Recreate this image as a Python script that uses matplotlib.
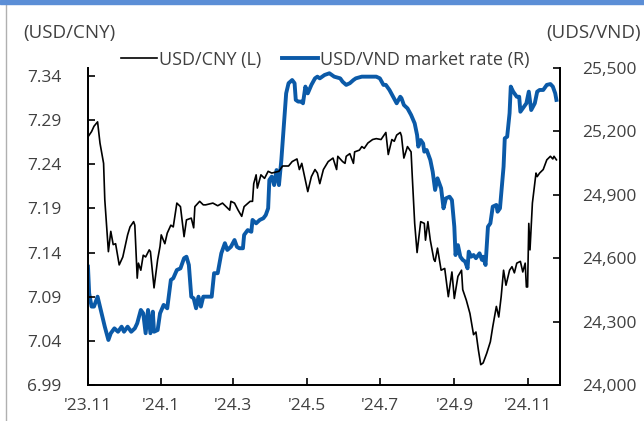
import matplotlib.pyplot as plt
import matplotlib.dates as mdates
import numpy as np
import pandas as pd
from matplotlib.lines import Line2D
from matplotlib.patches import Rectangle

plt.rcParams['font.family'] = ['Open Sans', 'DejaVu Sans']

# USD/CNY (left axis)
cny_dates = ["2023-11-01", "2023-11-04", "2023-11-06", "2023-11-09", "2023-11-11", "2023-11-14",
             "2023-11-15", "2023-11-18", "2023-11-20", "2023-11-22", "2023-11-24", "2023-11-27",
             "2023-11-30", "2023-12-04", "2023-12-06", "2023-12-09", "2023-12-10", "2023-12-12",
             "2023-12-13", "2023-12-15", "2023-12-17", "2023-12-19", "2023-12-22", "2023-12-23",
             "2023-12-26", "2023-12-29", "2023-12-31", "2024-01-01", "2024-01-04", "2024-01-06",
             "2024-01-09", "2024-01-11", "2024-01-14", "2024-01-17", "2024-01-20", "2024-01-22",
             "2024-01-26", "2024-01-28", "2024-01-29", "2024-02-02", "2024-02-05", "2024-02-07",
             "2024-02-13", "2024-02-17", "2024-02-21", "2024-02-24", "2024-02-27", "2024-02-28",
             "2024-03-02", "2024-03-05", "2024-03-08", "2024-03-10", "2024-03-15", "2024-03-17",
             "2024-03-18", "2024-03-20", "2024-03-21", "2024-03-24", "2024-03-27", "2024-03-30",
             "2024-04-02", "2024-04-05", "2024-04-08", "2024-04-11", "2024-04-16", "2024-04-19",
             "2024-04-23", "2024-04-25", "2024-04-27", "2024-04-30", "2024-05-02", "2024-05-05",
             "2024-05-08", "2024-05-10", "2024-05-12", "2024-05-15", "2024-05-19", "2024-05-23",
             "2024-05-26", "2024-05-27", "2024-05-31", "2024-06-02", "2024-06-03", "2024-06-06",
             "2024-06-09", "2024-06-10", "2024-06-14", "2024-06-16", "2024-06-18", "2024-06-21",
             "2024-06-25", "2024-06-28", "2024-07-02", "2024-07-06", "2024-07-08", "2024-07-11",
             "2024-07-13", "2024-07-15", "2024-07-18", "2024-07-19", "2024-07-21", "2024-07-24",
             "2024-07-27", "2024-07-28", "2024-07-30", "2024-08-01", "2024-08-04", "2024-08-07",
             "2024-08-08", "2024-08-10", "2024-08-12", "2024-08-15", "2024-08-16", "2024-08-18",
             "2024-08-21", "2024-08-24", "2024-08-27", "2024-08-30", "2024-09-01", "2024-09-04",
             "2024-09-07", "2024-09-08", "2024-09-11", "2024-09-14", "2024-09-17", "2024-09-19",
             "2024-09-21", "2024-09-23", "2024-09-25", "2024-09-28", "2024-10-01", "2024-10-03",
             "2024-10-06", "2024-10-08", "2024-10-10", "2024-10-12", "2024-10-14", "2024-10-17",
             "2024-10-19", "2024-10-21", "2024-10-23", "2024-10-26", "2024-10-28", "2024-10-30",
             "2024-10-31", "2024-11-01", "2024-11-02", "2024-11-03", "2024-11-05", "2024-11-08",
             "2024-11-09", "2024-11-11", "2024-11-14", "2024-11-17", "2024-11-20", "2024-11-22",
             "2024-11-23", "2024-11-25"]
cny = [7.271, 7.277, 7.283, 7.288, 7.264, 7.241,
       7.200, 7.141, 7.164, 7.149, 7.150, 7.126,
       7.135, 7.160, 7.169, 7.175, 7.171, 7.111,
       7.128, 7.120, 7.137, 7.135, 7.143, 7.141,
       7.100, 7.132, 7.147, 7.160, 7.150, 7.162,
       7.171, 7.169, 7.196, 7.192, 7.158, 7.177,
       7.179, 7.168, 7.192, 7.198, 7.194, 7.194,
       7.196, 7.193, 7.196, 7.192, 7.188, 7.198,
       7.196, 7.188, 7.181, 7.192, 7.198, 7.198,
       7.218, 7.228, 7.213, 7.228, 7.224, 7.232,
       7.230, 7.231, 7.232, 7.238, 7.238, 7.243,
       7.246, 7.234, 7.241, 7.222, 7.209, 7.226,
       7.234, 7.230, 7.218, 7.234, 7.243, 7.247,
       7.234, 7.249, 7.243, 7.241, 7.249, 7.252,
       7.241, 7.254, 7.256, 7.260, 7.258, 7.264,
       7.268, 7.269, 7.268, 7.276, 7.251, 7.268,
       7.266, 7.273, 7.276, 7.272, 7.247, 7.260,
       7.254, 7.226, 7.173, 7.140, 7.175, 7.173,
       7.154, 7.175, 7.154, 7.132, 7.130, 7.145,
       7.120, 7.122, 7.090, 7.118, 7.088, 7.113,
       7.120, 7.098, 7.086, 7.071, 7.047, 7.050,
       7.030, 7.013, 7.015, 7.026, 7.039, 7.056,
       7.079, 7.067, 7.090, 7.120, 7.103, 7.120,
       7.124, 7.117, 7.128, 7.130, 7.118, 7.128,
       7.101, 7.101, 7.173, 7.143, 7.196, 7.230,
       7.226, 7.230, 7.234, 7.245, 7.249, 7.246,
       7.249, 7.245]

# USD/VND market rate (right axis)
vnd_dates = ["2023-11-01", "2023-11-02", "2023-11-04", "2023-11-06", "2023-11-09", "2023-11-11",
             "2023-11-15", "2023-11-18", "2023-11-20", "2023-11-23", "2023-11-26", "2023-11-29",
             "2023-12-01", "2023-12-04", "2023-12-07", "2023-12-10", "2023-12-12", "2023-12-15",
             "2023-12-17", "2023-12-19", "2023-12-21", "2023-12-23", "2023-12-25", "2023-12-26",
             "2023-12-29", "2023-12-31", "2024-01-03", "2024-01-06", "2024-01-09", "2024-01-11",
             "2024-01-14", "2024-01-17", "2024-01-20", "2024-01-22", "2024-01-24", "2024-01-26",
             "2024-01-28", "2024-01-30", "2024-02-01", "2024-02-03", "2024-02-05", "2024-02-09",
             "2024-02-12", "2024-02-14", "2024-02-17", "2024-02-20", "2024-02-23", "2024-02-25",
             "2024-02-28", "2024-03-02", "2024-03-04", "2024-03-06", "2024-03-09", "2024-03-10",
             "2024-03-13", "2024-03-16", "2024-03-17", "2024-03-20", "2024-03-23", "2024-03-26",
             "2024-03-28", "2024-03-30", "2024-03-31", "2024-04-02", "2024-04-04", "2024-04-06",
             "2024-04-08", "2024-04-10", "2024-04-12", "2024-04-14", "2024-04-16", "2024-04-19",
             "2024-04-21", "2024-04-22", "2024-04-24", "2024-04-27", "2024-04-28", "2024-04-30",
             "2024-05-02", "2024-05-05", "2024-05-08", "2024-05-10", "2024-05-12", "2024-05-16",
             "2024-05-20", "2024-05-24", "2024-05-29", "2024-05-31", "2024-06-03", "2024-06-06",
             "2024-06-09", "2024-06-11", "2024-06-16", "2024-06-20", "2024-06-24", "2024-06-28",
             "2024-07-01", "2024-07-04", "2024-07-06", "2024-07-09", "2024-07-12", "2024-07-15",
             "2024-07-18", "2024-07-19", "2024-07-21", "2024-07-24", "2024-07-27", "2024-07-30",
             "2024-08-01", "2024-08-02", "2024-08-04", "2024-08-06", "2024-08-07", "2024-08-09",
             "2024-08-12", "2024-08-14", "2024-08-16", "2024-08-18", "2024-08-21", "2024-08-23",
             "2024-08-25", "2024-08-28", "2024-08-30", "2024-09-01", "2024-09-02", "2024-09-04",
             "2024-09-06", "2024-09-08", "2024-09-10", "2024-09-12", "2024-09-13", "2024-09-15",
             "2024-09-17", "2024-09-19", "2024-09-22", "2024-09-24", "2024-09-25", "2024-09-27",
             "2024-09-29", "2024-10-01", "2024-10-03", "2024-10-06", "2024-10-07", "2024-10-09",
             "2024-10-12", "2024-10-13", "2024-10-15", "2024-10-17", "2024-10-18", "2024-10-20",
             "2024-10-23", "2024-10-25", "2024-10-26", "2024-10-28", "2024-10-31", "2024-11-02",
             "2024-11-04", "2024-11-07", "2024-11-09", "2024-11-11", "2024-11-14", "2024-11-17",
             "2024-11-20", "2024-11-22", "2024-11-24", "2024-11-25"]
vnd = [24560, 24434, 24371, 24371, 24418, 24371,
       24276, 24213, 24245, 24268, 24252, 24276,
       24252, 24276, 24252, 24268, 24292, 24355,
       24339, 24245, 24355, 24245, 24347, 24252,
       24260, 24339, 24379, 24363, 24497, 24505,
       24544, 24552, 24600, 24607, 24568, 24418,
       24410, 24363, 24418, 24371, 24418, 24418,
       24418, 24529, 24529, 24623, 24671, 24639,
       24654, 24686, 24654, 24647, 24647, 24710,
       24733, 24725, 24781, 24765, 24781, 24789,
       24804, 24836, 24970, 24986, 24946, 25017,
       24946, 25065, 25222, 25380, 25428, 25443,
       25428, 25349, 25341, 25341, 25333, 25412,
       25380, 25420, 25451, 25459, 25451, 25467,
       25475, 25459, 25451, 25435, 25420, 25428,
       25443, 25451, 25459, 25459, 25459, 25459,
       25451, 25420, 25420, 25396, 25364, 25333,
       25364, 25357, 25325, 25309, 25278, 25238,
       25183, 25128, 25159, 25143, 25104, 25112,
       25065, 25009, 24923, 24978, 24931, 24836,
       24883, 24891, 24875, 24749, 24615, 24662,
       24607, 24592, 24584, 24552, 24631, 24607,
       24615, 24600, 24623, 24592, 24607, 24568,
       24749, 24765, 24844, 24852, 24820, 24836,
       25033, 25167, 25175, 25286, 25412, 25388,
       25364, 25364, 25293, 25309, 25333, 25388,
       25301, 25333, 25388, 25396, 25396, 25420,
       25424, 25412, 25380, 25349]

left_ticks = [6.99, 7.04, 7.09, 7.14, 7.19, 7.24, 7.29, 7.34]
right_ticks = [24000, 24300, 24600, 24900, 25200, 25500]
month_ticks = ["2023-11-01", "2024-01-01", "2024-03-01", "2024-05-01",
               "2024-07-01", "2024-09-01", "2024-11-01"]

text_color = "#404040"
blue = "#0b5aa8"

fig = plt.figure(figsize=(6.44, 4.21), dpi=100)
ax = fig.add_axes([0.1366, 0.0855, 0.7330, 0.753])
ax2 = ax.twinx()

l1, = ax.plot(pd.to_datetime(cny_dates), cny, color="black", lw=1.2)
l2, = ax2.plot(pd.to_datetime(vnd_dates), vnd, color=blue, lw=2.8)
ax.set_zorder(ax2.get_zorder() + 1)
ax.patch.set_visible(False)

ax.set_xlim(pd.Timestamp("2023-11-01"), pd.Timestamp("2024-11-28"))
ax.set_ylim(6.99, 7.349)
ax2.set_ylim(24000, 25500)
ax.set_yticks(left_ticks)
ax.set_yticklabels(["%.2f" % v for v in left_ticks])
ax2.set_yticks(right_ticks)
ax2.set_yticklabels(["{:,}".format(v) for v in right_ticks])
ax.set_xticks(pd.to_datetime(month_ticks))
ax.xaxis.set_major_formatter(mdates.DateFormatter("'%y.%-m"))

for a in (ax, ax2):
    a.spines["top"].set_visible(False)
    for s in ("left", "right", "bottom"):
        a.spines[s].set_linewidth(1.3)
    a.tick_params(direction="in", length=5, width=1.2, labelsize=12.5, colors="black",
                  labelcolor=text_color)
ax.tick_params(axis="y", pad=19)
ax.tick_params(axis="x", pad=9)
ax2.tick_params(axis="y", pad=16)

fig.text(0.036, 0.922, "(USD/CNY)", fontsize=13.5, color=text_color, ha="left", va="center")
fig.text(0.995, 0.922, "(UDS/VND)", fontsize=13.5, color=text_color, ha="right", va="center")

fig.legend([l1, l2], ["USD/CNY (L)", "USD/VND market rate (R)"], loc="center",
           bbox_to_anchor=(0.505, 0.858), ncol=2, frameon=False, fontsize=13,
           handlelength=2.0, handletextpad=0.15, columnspacing=1.1, labelcolor=text_color)

# frame decoration
fig.patches.append(Rectangle((0, 0.99), 1, 0.01, transform=fig.transFigure,
                             color="#5b8ed6", zorder=5))
fig.lines.append(Line2D([0.009, 0.009], [0, 0.99], transform=fig.transFigure,
                        color="#b0b0b0", lw=1))

fig.savefig("out.png", dpi=100)
